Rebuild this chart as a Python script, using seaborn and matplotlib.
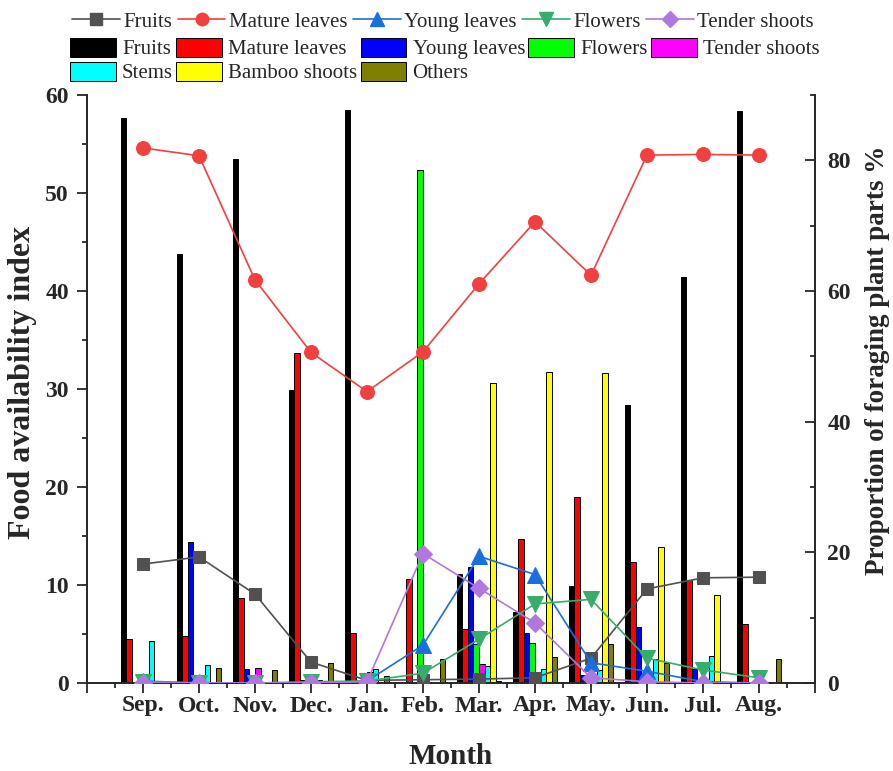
import numpy as np
import pandas as pd
import matplotlib
matplotlib.use("Agg")
import matplotlib.pyplot as plt
from matplotlib.patches import Patch
from matplotlib.lines import Line2D
import seaborn as sns

sns.set_style("ticks")
plt.rcParams['font.family'] = ['Liberation Serif', 'DejaVu Serif']

months = ['Sep.', 'Oct.', 'Nov.', 'Dec.', 'Jan.', 'Feb.', 'Mar.', 'Apr.', 'May.', 'Jun.', 'Jul.', 'Aug.']
parts = ['Fruits', 'Mature leaves', 'Young leaves', 'Flowers', 'Tender shoots',
         'Stems', 'Bamboo shoots', 'Others']

# food availability index (bars, left axis)
fruits_idx = [57.7, 43.8, 53.5, 29.9, 58.5, 0.0, 11.1, 7.2, 9.9, 28.4, 41.4, 58.4]
mature_idx = [4.5, 4.8, 8.7, 33.7, 5.1, 10.6, 5.5, 14.7, 19.0, 12.3, 10.5, 6.0]
young_idx = [0.0, 14.4, 1.4, 0.3, 0.0, 0.0, 11.8, 5.1, 0.8, 5.7, 1.4, 0.0]
flowers_idx = [0.0, 0.0, 0.0, 0.0, 0.0, 52.3, 4.0, 4.1, 0.5, 0.5, 0.0, 0.0]
tender_idx = [0.0, 0.0, 1.5, 0.0, 1.1, 0.0, 1.9, 0.0, 0.0, 0.0, 0.0, 0.0]
stems_idx = [4.3, 1.8, 0.0, 0.3, 1.4, 0.0, 1.75, 1.4, 1.35, 2.4, 2.75, 0.0]
bamboo_idx = [0.0, 0.0, 0.0, 0.0, 0.0, 0.0, 30.6, 31.7, 31.6, 13.9, 9.0, 0.0]
others_idx = [0.0, 1.5, 1.3, 2.0, 0.75, 2.45, 0.2, 2.65, 4.0, 2.0, 0.0, 2.45]

# proportion of foraging plant parts % (lines, right axis)
fruits_pct = [18.2, 19.3, 13.6, 3.2, 0.4, 0.5, 0.6, 0.8, 3.8, 14.4, 16.1, 16.2]
mature_pct = [81.9, 80.7, 61.7, 50.6, 44.6, 50.7, 61.1, 70.6, 62.4, 80.8, 80.9, 80.8]
young_pct = [0.3, 0.0, 0.0, 0.0, 0.3, 5.8, 19.4, 16.6, 3.1, 1.8, 0.2, 0.0]
flowers_pct = [0.2, 0.0, 0.0, 0.2, 0.3, 1.5, 6.7, 12.1, 12.8, 3.8, 2.0, 0.8]
tender_pct = [0.0, 0.0, 0.0, 0.0, 0.2, 19.8, 14.5, 9.2, 0.8, 0.2, 0.0, 0.0]

bar_colors = ['#000000', '#ff0000', '#0000ff', '#00ff00', '#ff00ff',
              '#00ffff', '#ffff00', '#808000']
line_colors = ['#515151', '#f14040', '#1a6fdf', '#37ad6b', '#b177de']
line_markers = ['s', 'o', '^', 'v', 'D']
line_sizes = [9, 10, 11, 11, 9]

bar_vals = [fruits_idx, mature_idx, young_idx, flowers_idx, tender_idx,
            stems_idx, bamboo_idx, others_idx]
line_vals = [fruits_pct, mature_pct, young_pct, flowers_pct, tender_pct]
line_names = parts[:5]

df = pd.DataFrame({
    'month': np.tile(months, len(parts)),
    'part': np.repeat(parts, len(months)),
    'value': np.concatenate(bar_vals),
})

fig = plt.figure(figsize=(8.93, 7.71), dpi=100)
ax = fig.add_axes([87/893, 88/771, 728/893, 588/771])

sns.barplot(data=df, x='month', y='value', hue='part', order=months,
            hue_order=parts, palette=bar_colors, width=0.8, saturation=1,
            edgecolor='black', linewidth=0.7, legend=False, ax=ax, zorder=2)

ax2 = ax.twinx()
xpos = np.arange(len(months))
for vals, c, m, ms, name in zip(line_vals, line_colors, line_markers, line_sizes, line_names):
    sns.lineplot(x=xpos, y=vals, color=c, marker=m, markersize=ms,
                 markeredgecolor=c, linewidth=1.2, sort=False, ax=ax2, label=name,
                 legend=False)

ax.set_xlim(-1, 12)
ax.set_ylim(0, 60)
ax2.set_ylim(0, 90)

ax.set_xticks(np.arange(-1, 13))
ax.set_xticklabels([''] + months + [''])
ax.set_xticks(np.arange(-0.5, 12, 1), minor=True)
ax.set_yticks(np.arange(0, 61, 10))
ax.set_yticks(np.arange(5, 60, 10), minor=True)
ax2.set_yticks(np.arange(0, 81, 20))
ax2.set_yticks(np.arange(10, 91, 20), minor=True)

for s in ['top', 'right']:
    ax.spines[s].set_visible(False)
for s in ['top', 'left', 'bottom']:
    ax2.spines[s].set_visible(False)
for a in (ax, ax2):
    for s in a.spines.values():
        s.set_linewidth(1.4)

ax.tick_params(axis='both', which='major', direction='out', length=7, width=1.3,
               labelsize=17)
ax.tick_params(axis='both', which='minor', direction='out', length=3.6, width=1.3)
ax.tick_params(axis='x', which='major', pad=2)
ax.tick_params(axis='y', which='major', pad=6)
ax2.tick_params(axis='y', which='major', direction='in', length=7, width=1.3,
                labelsize=17, pad=9)
ax2.tick_params(axis='y', which='minor', direction='in', length=3.6, width=1.3)
for lab in ax.get_xticklabels() + ax.get_yticklabels() + ax2.get_yticklabels():
    lab.set_fontweight('bold')

ax.set_xlabel('Month', fontsize=21, fontweight='bold')
ax.xaxis.set_label_coords(0.5, -0.102)
ax.set_ylabel('Food availability index', fontsize=23, fontweight='bold')
ax.yaxis.set_label_coords(-0.068, 0.512)
ax2.set_ylabel('Proportion of foraging plant parts %', fontsize=19.5,
               fontweight='bold')
ax2.yaxis.set_label_coords(1.068, 0.548)

line_handles = [Line2D([0], [0], color=c, marker=m, markersize=ms * 0.9, linewidth=1.2)
                for c, m, ms in zip(line_colors, line_markers, line_sizes)]
leg1 = fig.legend(line_handles, line_names, loc='upper left',
                  bbox_to_anchor=(72/893, 1 - 12/771), ncol=5, frameon=False,
                  fontsize=15, handlelength=2.3, handletextpad=0.17,
                  columnspacing=0.25, borderpad=0, borderaxespad=0)

order = [0, 5, 1, 6, 2, 7, 3, 4]
bar_handles = [Patch(facecolor=bar_colors[i], edgecolor='black', linewidth=0.7)
               for i in order]
leg2 = fig.legend(bar_handles, [parts[i] for i in order], loc='upper left',
                  bbox_to_anchor=(70/893, 1 - 38/771), ncol=5, frameon=False,
                  fontsize=15, handlelength=2.2, handleheight=1.0,
                  handletextpad=0.3, columnspacing=0.15, labelspacing=0.12,
                  borderpad=0, borderaxespad=0)

fig.savefig('out.png', dpi=100)
